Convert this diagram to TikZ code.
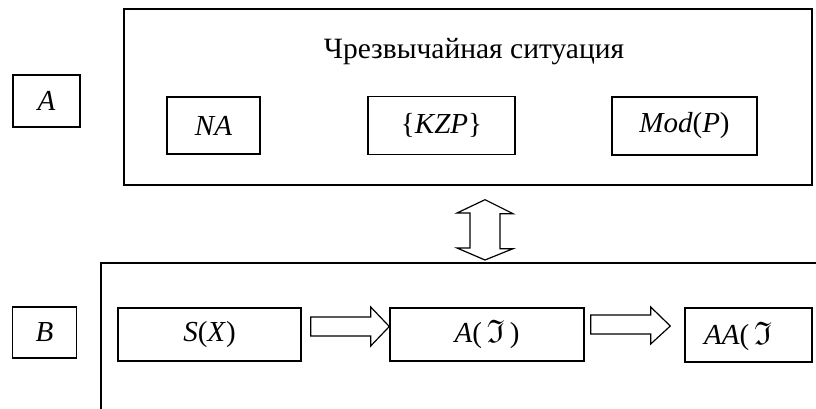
\documentclass[tikz,border=0pt]{standalone}
\usepackage{amssymb}
\usepackage{fontspec}
\setmainfont{Liberation Serif}
\usetikzlibrary{calc}
\newcommand{\frakI}{\scalebox{1.12}{$\mathfrak{I}$}}
\begin{document}
\begin{tikzpicture}[x=1pt,y=-1pt,
  frame/.style={draw,line width=1.4pt},
  box/.style={draw,line width=1.4pt,inner sep=0pt,font=\fontsize{29}{34}\selectfont},
  blockarrow/.style={draw,line width=1.2pt,fill=white,line join=miter}]
\useasboundingbox (0,0) rectangle (816,409);

% upper frame: the emergency situation
\node[frame,inner sep=0pt,minimum width=688,minimum height=176] (top) at (468,97) {};
\node[anchor=base,font=\fontsize{29.5}{34}\selectfont] (title) at (474,59) {Чрезвычайная ситуация};
\node[box,minimum width=93,minimum height=57] (na) at (213.5,125.5) {\itshape NA};
\node[box,minimum width=147,minimum height=58] (kzp) at (441.5,125.5) {\{\textit{KZP}\}};
\node[box,minimum width=145,minimum height=58] (mod) at (684.5,126) {\textit{Mod}(\textit{P})};

% side labels
\node[box,minimum width=67,minimum height=52] (la) at (46.5,101) {\itshape A};
\node[box,minimum width=64,minimum height=51] (lb) at (44.5,332.5) {\itshape B};

% lower frame (open to the right and below)
\coordinate (lowtl) at (101,263);
\draw[frame] (816,263) -- (lowtl) -- (101,409);

% lower chain of boxes
\node[box,minimum width=183,minimum height=53] (sx) at (209.5,334.5) {\textit{S}(\textit{X})};
\node[box,minimum width=194,minimum height=53] (af) at (487,334.5) {\textit{A}(\,\frakI\,)};
\node[box,minimum width=127,minimum height=54] (aa) at (748.5,335) {};
\node[anchor=west,font=\fontsize{29}{34}\selectfont,inner sep=0pt] (aat) at (704,336) {\textit{AA}(\,\frakI};

% block arrows between the lower boxes
\coordinate (tip1) at ($(af.west)+(0,-8)$);
\coordinate (tip2) at ($(aa.west)+(-14,-9)$);
\draw[blockarrow] ($(sx.east)+(9,-17.5)$) -- ++(60,0) -- ++(0,-10) -- (tip1)
  -- ($(sx.east)+(69,11.5)$) -- ++(0,-10) -- ++(-60,0) -- cycle;
\draw[blockarrow] ($(af.east)+(6,-19.5)$) -- ++(60,0) -- ++(0,-8) -- (tip2)
  -- ($(af.east)+(66,9.5)$) -- ++(0,-10) -- ++(-60,0) -- cycle;

% double block arrow between the two frames
\coordinate (dtop) at ($(top.south)+(17,14)$);
\coordinate (dbot) at ($(lowtl)+(384,-3)$);
\draw[blockarrow] (dtop) -- ++(28,14) -- ++(-13,0) -- ++(0,35) -- ++(13,0) -- (dbot)
  -- ++(-28,-12) -- ++(13,0) -- ++(0,-35) -- ++(-13,0) -- cycle;
\end{tikzpicture}
\end{document}
